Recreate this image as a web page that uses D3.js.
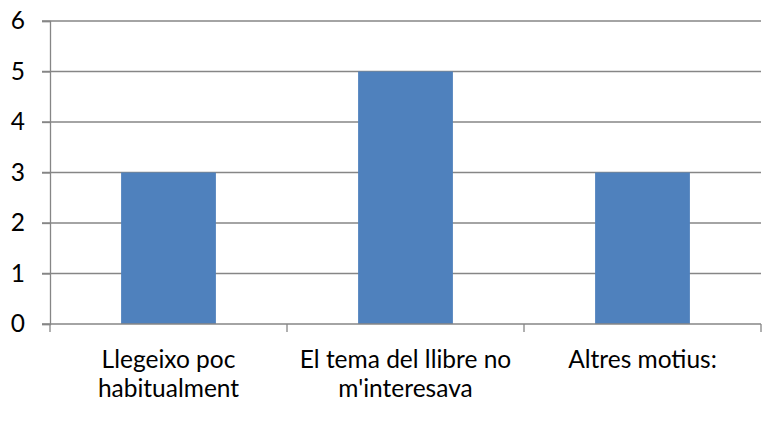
<!DOCTYPE html>
<html>
<head>
<meta charset="utf-8">
<script src="https://cdn.jsdelivr.net/npm/d3@7"></script>
<style>
  body { margin: 0; background: #fff; }
  svg text { font-family: Lato, "Open Sans", sans-serif; fill: #000; }
</style>
</head>
<body>
<div id="chart"></div>
<script>
// data
var categories = [["Llegeixo poc", "habitualment"], ["El tema del llibre no", "m'interesava"], ["Altres motius:"]];
var values = [3, 5, 3];
var yTicks = [0, 1, 2, 3, 4, 5, 6];

// size
var W = 780, H = 421;
var margin = {top: 21, right: 19, bottom: 97, left: 50};
var w = W - margin.left - margin.right;
var h = H - margin.top - margin.bottom;
var fontSize = 24.5;

var svgBG = d3.select("#chart").append("svg").attr("width", W).attr("height", H);
var svg = svgBG.append("g").attr("transform", "translate(" + margin.left + "," + margin.top + ")");

var keys = categories.map(function(d, i) { return i; });
var xScale = d3.scaleBand().domain(keys).range([0, w]).paddingInner(0.6).paddingOuter(0.3);
var xOuter = d3.scaleBand().domain(keys).range([0, w]);
var yScale = d3.scaleLinear().domain([0, 6]).range([h, 0]);

// gridlines
svg.append("g").selectAll("line")
  .data(yTicks.slice(1))
  .enter().append("line")
  .attr("x1", -8).attr("x2", w)
  .attr("y1", function(d) { return yScale(d); })
  .attr("y2", function(d) { return yScale(d); })
  .attr("stroke", "#868686").attr("stroke-width", 1.3);

// bars
svg.append("g").selectAll("rect")
  .data(values)
  .enter().append("rect")
  .attr("x", function(d, i) { return xScale(i); })
  .attr("y", function(d) { return yScale(d); })
  .attr("width", xScale.bandwidth())
  .attr("height", function(d) { return h - yScale(d); })
  .attr("fill", "#4F81BD");

// y axis
var yAxis = svg.append("g")
  .call(d3.axisLeft(yScale).tickValues(yTicks).tickFormat(d3.format("d")).tickSize(8).tickPadding(17));
yAxis.selectAll("path, line").attr("stroke", "#868686").attr("stroke-width", 1.3);
yAxis.selectAll("text").attr("font-size", fontSize).attr("font-family", "Lato, sans-serif");

// x axis
var xAxisG = svg.append("g").attr("transform", "translate(0," + h + ")");
xAxisG.append("line").attr("x1", -8).attr("x2", w).attr("stroke", "#868686").attr("stroke-width", 1.3);
xAxisG.selectAll("line.tick")
  .data(keys.concat([keys.length]))
  .enter().append("line").attr("class", "tick")
  .attr("x1", function(d) { return d < keys.length ? xOuter(d) : w; })
  .attr("x2", function(d) { return d < keys.length ? xOuter(d) : w; })
  .attr("y1", 0).attr("y2", 8)
  .attr("stroke", "#868686").attr("stroke-width", 1.3);

var labels = xAxisG.selectAll("text.cat")
  .data(categories)
  .enter().append("text").attr("class", "cat")
  .attr("text-anchor", "middle")
  .attr("font-size", fontSize)
  .attr("transform", function(d, i) { return "translate(" + (xOuter(i) + xOuter.bandwidth() / 2) + ",0)"; });
labels.selectAll("tspan")
  .data(function(d) { return d; })
  .enter().append("tspan")
  .attr("x", 0)
  .attr("y", function(d, j) { return 44 + j * 29; })
  .text(function(d) { return d; });
</script>
</body>
</html>
